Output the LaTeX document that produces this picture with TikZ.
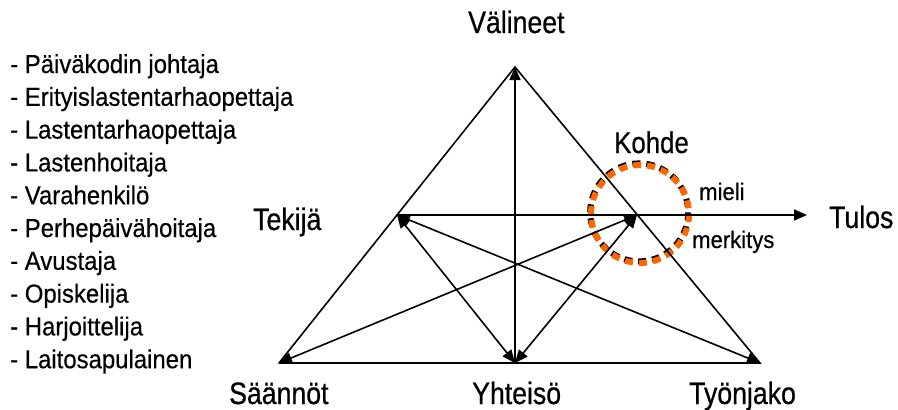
\documentclass[tikz,border=0pt]{standalone}
\usepackage{fontspec}
\setmainfont{Liberation Sans}
\newfontfamily\labelfont{Liberation Sans}[FakeStretch=0.86, FakeBold=0.6]
\newfontfamily\listfont{Liberation Sans}[FakeStretch=0.92, FakeBold=0.4]
\newfontfamily\notefont{Liberation Sans}[FakeStretch=0.92, FakeBold=0.4]
\usetikzlibrary{arrows.meta}

\definecolor{ringorange}{RGB}{255,102,0}

\tikzset{
  edge/.style={line width=1.6pt, line cap=round},
  tip/.style={-{Triangle[length=13pt,width=11pt]}},
  biarrow/.style={{Triangle[length=13pt,width=11pt]}-{Triangle[length=13pt,width=11pt]}},
  corner/.style={font=\labelfont\fontsize{31}{31}\selectfont, anchor=base west, inner sep=0pt},
  note/.style={font=\notefont\fontsize{24}{24}\selectfont, anchor=base west, inner sep=0pt},
  target/.style={font=\labelfont\fontsize{30}{30}\selectfont, anchor=base west, inner sep=0pt},
  roleitem/.style={font=\listfont\fontsize{26}{26}\selectfont, anchor=base west, inner sep=0pt},
}

\begin{document}
\begin{tikzpicture}[x=1pt, y=-1pt]
  \useasboundingbox[fill=white] (0,0) rectangle (898,410);

  % corner points of the activity triangle
  \coordinate (valineet) at (515,67);
  \coordinate (saannot)  at (279,363);
  \coordinate (tyonjako) at (760,363);
  \coordinate (yhteiso)  at (515,363);
  \coordinate (tekija)   at (397,215);
  \coordinate (kohde)    at (637,215);
  \coordinate (tulos)    at (807,215);

  % ring around the object
  \draw[line width=6pt, dash pattern=on 8pt off 6pt, black]
    (639.2,212.4) circle[radius=49];
  \draw[line width=6pt, dash pattern=on 8pt off 6pt, ringorange]
    (640,214) circle[radius=49];

  % triangle sides
  \draw[edge] (saannot) -- (valineet) -- (tyonjako) -- (saannot);

  % connections
  \draw[edge, tip] (yhteiso) -- (valineet);
  \draw[edge, tip] (tekija) -- (tulos);
  \draw[edge, biarrow] (tekija) -- (yhteiso);
  \draw[edge, biarrow] (tekija) -- (tyonjako);
  \draw[edge, biarrow] (kohde) -- (saannot);
  \draw[edge, biarrow] (kohde) -- (yhteiso);

  % labels
  \node[corner] (lblvalineet) at (468,33)  {Välineet};
  \node[corner] (lbltekija)   at (253,230) {Tekijä};
  \node[corner] (lbltulos)    at (829,228) {Tulos};
  \node[corner] (lblsaannot)  at (229,404) {Säännöt};
  \node[corner] (lblyhteiso)  at (472,404) {Yhteisö};
  \node[corner] (lbltyonjako) at (689,404) {Työnjako};
  \node[target] (lblkohde)    at (614,153) {Kohde};
  \node[note]   (lblmieli)    at (699,200) {mieli};
  \node[note]   (lblmerkitys) at (692,248) {merkitys};

  % roles
  \foreach \role [count=\i from 0] in {
      Päiväkodin johtaja,
      Erityislastentarhaopettaja,
      Lastentarhaopettaja,
      Lastenhoitaja,
      Varahenkilö,
      Perhepäivähoitaja,
      Avustaja,
      Opiskelija,
      Harjoittelija,
      Laitosapulainen}
    \node[roleitem] (role\i) at (10,{73+32.8*\i}) {- \role};
\end{tikzpicture}
\end{document}
